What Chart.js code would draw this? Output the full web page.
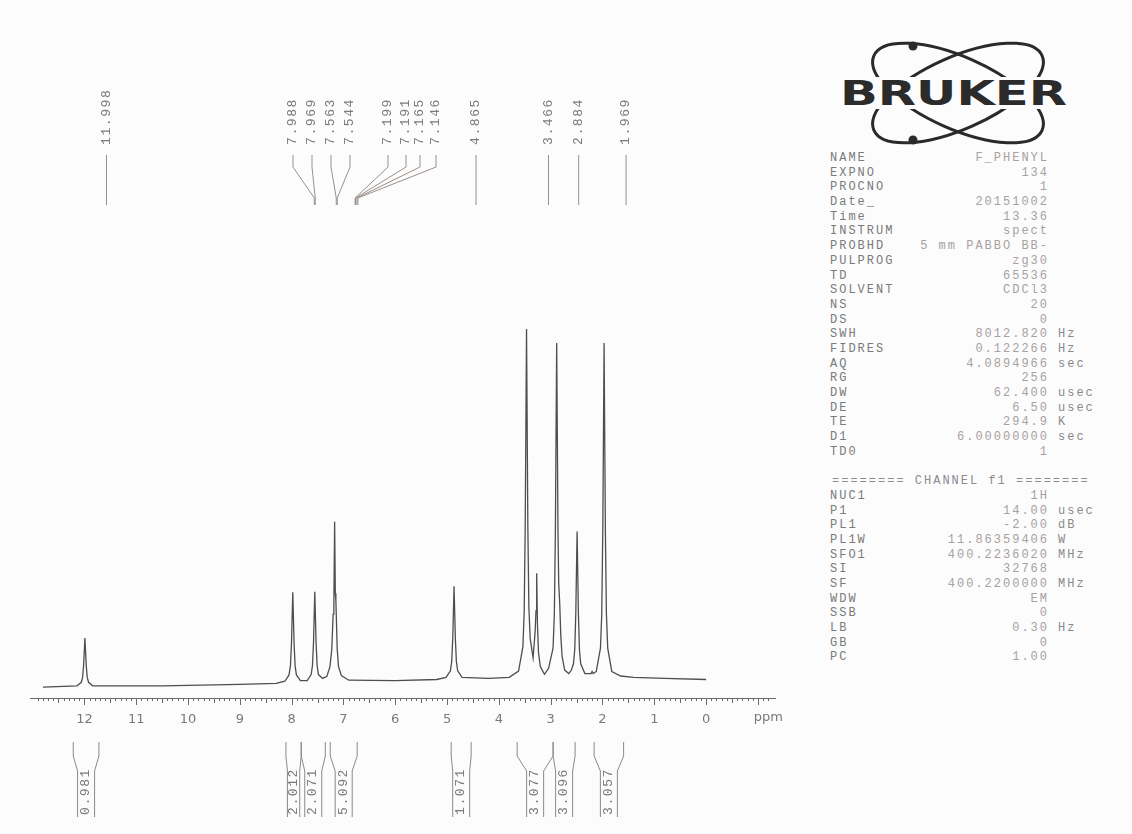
<!DOCTYPE html>
<html>
<head>
<meta charset="utf-8">
<script src="https://cdn.jsdelivr.net/npm/chart.js@4.4.1/dist/chart.umd.min.js"></script>
<style>
  html, body { margin: 0; padding: 0; }
  body { width: 1132px; height: 834px; background: #fcfcfc; position: relative; overflow: hidden; }
  #wrap { position: absolute; left: 0; top: 0; width: 800px; height: 834px; }
  .rot { position: absolute; white-space: nowrap; font: 13px "Liberation Mono", monospace; letter-spacing: 1.6px;
         color: #7c7a7a; line-height: 12px; transform-origin: 0 50%; transform: rotate(-90deg); }
  .ppm { position: absolute; font: 13px "DejaVu Sans", sans-serif; color: #7a7a7a; }
  #params { position: absolute; left: 830px; top: 151px; width: 270px; font: 12px "Liberation Mono", monospace;
            letter-spacing: 2px; }
  #params .row { position: relative; height: 14.7px; line-height: 14.7px; white-space: nowrap; }
  #params .n { position: absolute; left: 0; color: #7a7a7a; }
  #params .v { position: absolute; right: 51px; color: #a7a1a1; }
  #params .u { position: absolute; left: 228px; color: #8a8a8a; }
  #params .ch { position: absolute; left: 2px; color: #8c8c8c; }
  #logo { position: absolute; left: 820px; top: 30px; }
</style>
</head>
<body>
<div id="wrap"><canvas id="nmrChart"></canvas></div>
<svg id="logo" width="270" height="125" viewBox="820 30 270 125">
  <ellipse cx="958" cy="93" rx="92" ry="36" transform="rotate(24 958 93)" fill="none" stroke="#2a2a2a" stroke-width="3"/>
  <ellipse cx="958" cy="93" rx="92" ry="36" transform="rotate(-24 958 93)" fill="none" stroke="#2a2a2a" stroke-width="3"/>
  <circle cx="913" cy="46" r="4.5" fill="#2a2a2a"/>
  <circle cx="913" cy="140" r="4.5" fill="#2a2a2a"/>
  <rect x="836" y="77" width="234" height="32" fill="#fcfcfc"/>
  <text x="840" y="105" font-family="DejaVu Sans" font-weight="bold" font-size="33" fill="#2b2b2b"
        textLength="227" lengthAdjust="spacingAndGlyphs">BRUKER</text>
</svg>
<div id="params"></div>
<div id="labels"></div>
<script>
// spectrum trace (ppm, intensity)
var tracePpm = [
  12.80, 12.14, 12.06, 12.035, 12.015, 11.99, 11.965, 11.945, 11.92, 11.84,
  10.5, 9.0, 8.3,
  8.13, 8.05, 8.023, 8.003, 7.978, 7.953, 7.933, 7.908, 7.83, 7.77,
  7.70, 7.623, 7.598, 7.578, 7.553, 7.528, 7.508, 7.483, 7.40,
  7.32, 7.26, 7.225, 7.199, 7.185, 7.17, 7.157, 7.146, 7.12, 7.095, 7.04, 6.90,
  6.0, 5.2,
  5.02, 4.935, 4.91, 4.89, 4.865, 4.84, 4.82, 4.795, 4.71,
  4.2, 3.8,
  3.62, 3.536, 3.511, 3.491, 3.466, 3.441, 3.421, 3.395, 3.34,
  3.30, 3.283, 3.27, 3.255, 3.235, 3.20, 3.12,
  3.04, 2.954, 2.929, 2.909, 2.884, 2.859, 2.845, 2.825, 2.805, 2.78, 2.73, 2.65,
  2.60, 2.56, 2.535, 2.515, 2.49, 2.465, 2.445, 2.42, 2.34, 2.22, 2.20, 2.18,
  2.12, 2.039, 2.014, 1.994, 1.969, 1.944, 1.924, 1.899, 1.82, 1.65, 1.4, 0.8, 0.0
];
var traceIntensity = [
  3.1, 3.5, 4.5, 5.9, 9.4, 17.2, 9.4, 5.9, 4.5, 3.5,
  3.5, 3.9, 4.2,
  4.8, 6.6, 9.2, 15.7, 30.3, 15.7, 9.2, 6.6, 5.0, 5.0,
  5.0, 6.7, 9.3, 15.8, 30.4, 15.8, 9.3, 6.7, 5.6,
  6.2, 9.0, 14.0, 24.0, 27.0, 50.5, 30.0, 28.0, 14.0, 9.0, 6.4, 5.1,
  5.0, 5.3,
  5.9, 7.8, 10.5, 17.1, 32.0, 17.1, 10.5, 7.8, 5.9,
  5.6, 5.9,
  7.7, 14.7, 24.7, 49.7, 105.7, 49.7, 26.0, 17.0, 11.5,
  19.0, 25.0, 35.7, 21.0, 13.0, 9.0, 6.8,
  8.5, 14.3, 24.0, 48.0, 101.7, 48.0, 33.0, 27.0, 18.0, 12.0, 8.0, 7.0,
  8.0, 9.8, 13.9, 24.3, 47.7, 24.3, 13.9, 9.8, 7.0, 7.0, 7.6, 7.0,
  7.6, 14.3, 24.0, 48.0, 101.7, 48.0, 24.0, 14.3, 7.6, 6.3, 5.9, 5.6, 5.3
];

// peak picking labels
var peakLabels = ['11.998', '7.988', '7.969', '7.563', '7.544', '7.199', '7.191', '7.165', '7.146',
                  '4.865', '3.466', '2.884', '1.969'];

// integrals
var integralValues = ['0.981', '2.012', '2.071', '5.092', '1.071', '3.077', '3.096', '3.057'];
var integralFrom = [12.215, 8.11, 7.815, 7.255, 4.92, 3.647, 2.953, 2.161];
var integralTo = [11.72, 7.815, 7.35, 6.735, 4.535, 2.953, 2.528, 1.592];

// acquisition / processing parameters
var paramNames = ['NAME', 'EXPNO', 'PROCNO', 'Date_', 'Time', 'INSTRUM', 'PROBHD', 'PULPROG', 'TD', 'SOLVENT',
  'NS', 'DS', 'SWH', 'FIDRES', 'AQ', 'RG', 'DW', 'DE', 'TE', 'D1', 'TD0'];
var paramValues = ['F_PHENYL', '134', '1', '20151002', '13.36', 'spect', '5 mm PABBO BB-', 'zg30', '65536', 'CDCl3',
  '20', '0', '8012.820', '0.122266', '4.0894966', '256', '62.400', '6.50', '294.9', '6.00000000', '1'];
var paramUnits = ['', '', '', '', '', '', '', '', '', '', '', '', 'Hz', 'Hz', 'sec', '', 'usec', 'usec', 'K', 'sec', ''];
var channelNames = ['NUC1', 'P1', 'PL1', 'PL1W', 'SFO1', 'SI', 'SF', 'WDW', 'SSB', 'LB', 'GB', 'PC'];
var channelValues = ['1H', '14.00', '-2.00', '11.86359406', '400.2236020', '32768', '400.2200000', 'EM', '0', '0.30', '0', '1.00'];
var channelUnits = ['', 'usec', 'dB', 'W', 'MHz', '', 'MHz', '', '', 'Hz', '', ''];

// layout of the annotation block (pixels)
var LABEL_SHIFT = 22;          // scan offset of label lines vs. peaks
var labelTextX = [null, 293, 312, 331, 350, 388, 406, 420, 436, null, null, null, null];
var LABEL_TEXT_BOTTOM = 145, LABEL_LINE_TOP = 155, LABEL_BEND1 = 167, LABEL_BEND2 = 198, LABEL_LINE_END = 205;
var INT_TOP = 742, INT_BEND1 = 756, INT_BEND2 = 771, INT_BOTTOM = 817;

var decor = {
  id: 'nmrDecor',
  afterDraw: function(chart) {
    var xs = chart.scales.x, ctx = chart.ctx, area = chart.chartArea;
    ctx.save();
    // ruler ticks
    ctx.strokeStyle = '#6c6c6c';
    ctx.lineWidth = 1;
    xs.ticks.forEach(function(t) {
      var tenth = Math.round(t.value * 10);
      if (Math.abs(t.value * 10 - tenth) > 1e-6) return;
      var px = Math.round(xs.getPixelForValue(t.value)) + 0.5;
      var len = tenth % 10 === 0 ? 7 : (tenth % 5 === 0 ? 5 : 3);
      ctx.beginPath();
      ctx.moveTo(px, area.bottom);
      ctx.lineTo(px, area.bottom + len);
      ctx.stroke();
    });
    // peak label leader lines
    ctx.strokeStyle = '#9a8f88';
    peakLabels.forEach(function(lab, i) {
      var px = xs.getPixelForValue(parseFloat(lab)) + LABEL_SHIFT;
      var tx = labelTextX[i] === null ? px : labelTextX[i];
      ctx.beginPath();
      ctx.moveTo(tx, LABEL_LINE_TOP);
      ctx.lineTo(tx, LABEL_BEND1);
      ctx.lineTo(px, LABEL_BEND2);
      ctx.lineTo(px, LABEL_LINE_END);
      ctx.stroke();
    });
    // integral brackets
    ctx.strokeStyle = '#8c8888';
    integralValues.forEach(function(v, i) {
      var a = xs.getPixelForValue(integralFrom[i]), b = xs.getPixelForValue(integralTo[i]);
      var c = (a + b) / 2, half = Math.abs(b - a) / 2, inner = Math.min(half - 1.5, 8.5);
      ctx.beginPath();
      ctx.moveTo(c - half, INT_TOP); ctx.lineTo(c - half, INT_BEND1);
      ctx.lineTo(c - inner, INT_BEND2); ctx.lineTo(c - inner, INT_BOTTOM);
      ctx.moveTo(c + half, INT_TOP); ctx.lineTo(c + half, INT_BEND1);
      ctx.lineTo(c + inner, INT_BEND2); ctx.lineTo(c + inner, INT_BOTTOM);
      ctx.stroke();
    });
    ctx.restore();
  }
};

var points = tracePpm.map(function(p, i) { return { x: p, y: traceIntensity[i] }; });

var chart = new Chart(document.getElementById('nmrChart'), {
  type: 'scatter',
  data: {
    datasets: [{
      data: points,
      showLine: true,
      pointRadius: 0,
      borderColor: '#4e4e4e',
      borderWidth: 1.3,
      tension: 0
    }]
  },
  options: {
    responsive: true,
    maintainAspectRatio: false,
    animation: false,
    events: [],
    layout: { padding: { left: 30, right: 25, top: 300, bottom: 100 } },
    plugins: { legend: { display: false }, tooltip: { enabled: false } },
    scales: {
      x: {
        type: 'linear',
        reverse: true,
        min: -1.33,
        max: 13.05,
        afterFit: function(s) { s.height = 36; },
        grid: { display: false },
        border: { display: true, color: '#6a6a6a', width: 1 },
        ticks: {
          stepSize: 0.1,
          autoSkip: false,
          maxRotation: 0,
          padding: 6,
          color: '#7a7a7a',
          font: { family: 'DejaVu Sans', size: 13 },
          callback: function(v) {
            var r = Math.round(v);
            return (Math.abs(v - r) < 1e-6 && r >= 0 && r <= 12) ? String(r) : '';
          }
        }
      },
      y: { display: false, min: 0, max: 114 }
    }
  },
  plugins: [decor]
});

// text annotations as real text, placed through the x scale
(function() {
  var xs = chart.scales.x;
  var box = document.getElementById('labels');
  function rotText(txt, x, bottom) {
    var d = document.createElement('div');
    d.className = 'rot';
    d.textContent = txt;
    d.style.left = x + 'px';
    d.style.top = (bottom - 6) + 'px';
    box.appendChild(d);
  }
  peakLabels.forEach(function(lab, i) {
    var px = xs.getPixelForValue(parseFloat(lab)) + LABEL_SHIFT;
    rotText(lab, labelTextX[i] === null ? px : labelTextX[i], LABEL_TEXT_BOTTOM);
  });
  integralValues.forEach(function(v, i) {
    var c = (xs.getPixelForValue(integralFrom[i]) + xs.getPixelForValue(integralTo[i])) / 2;
    rotText(v, c, INT_BOTTOM - 2);
  });
  var ppm = document.createElement('div');
  ppm.className = 'ppm';
  ppm.textContent = 'ppm';
  ppm.style.left = (xs.getPixelForValue(-1.15) - 12) + 'px';
  ppm.style.top = (chart.chartArea.bottom + 11) + 'px';
  box.appendChild(ppm);

  var params = document.getElementById('params');
  function row(n, v, u) {
    var r = document.createElement('div');
    r.className = 'row';
    r.innerHTML = '<span class="n"></span><span class="v"></span><span class="u"></span>';
    r.children[0].textContent = n;
    r.children[1].textContent = v;
    r.children[2].textContent = u;
    params.appendChild(r);
  }
  paramNames.forEach(function(n, i) { row(n, paramValues[i], paramUnits[i]); });
  row('', '', '');
  var ch = document.createElement('div');
  ch.className = 'row';
  ch.innerHTML = '<span class="ch">======== CHANNEL f1 ========</span>';
  params.appendChild(ch);
  channelNames.forEach(function(n, i) { row(n, channelValues[i], channelUnits[i]); });
})();
</script>
</body>
</html>
